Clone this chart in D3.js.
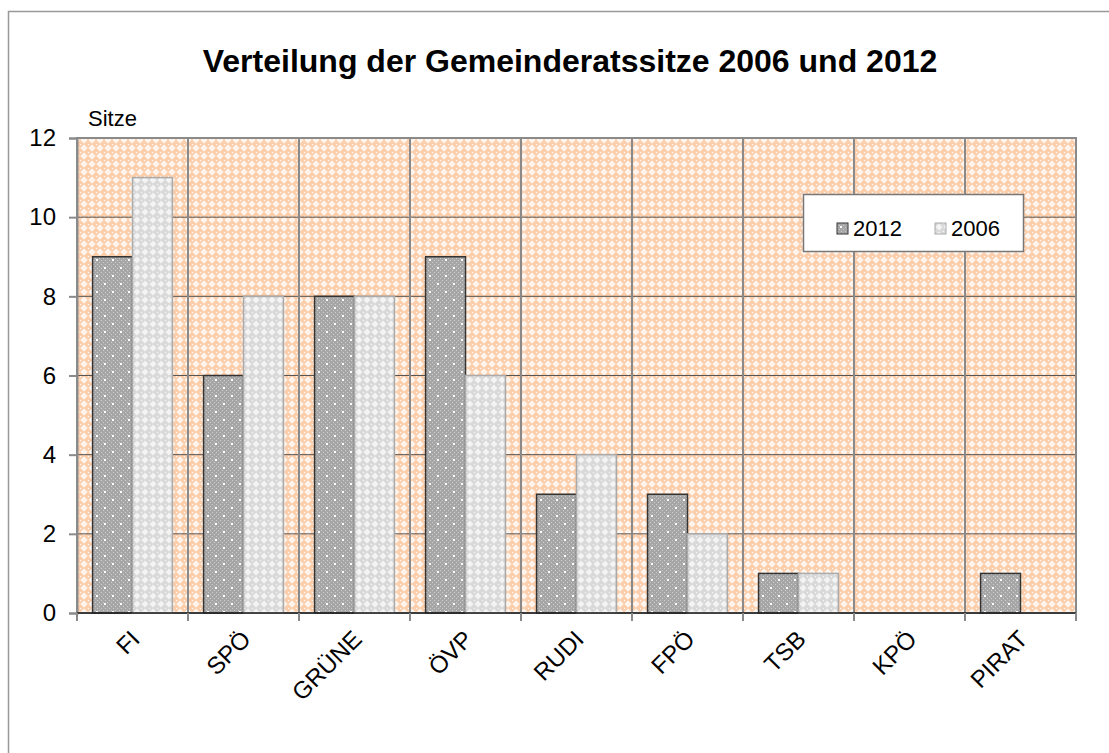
<!DOCTYPE html>
<html><head><meta charset="utf-8">
<script src="https://cdn.jsdelivr.net/npm/d3@7"></script>
<style>body{margin:0;background:#fff;font-family:"Liberation Sans",Arial,sans-serif}</style>
</head><body>
<svg id="c" width="1109" height="753"></svg>
<script>
const categories = ["FI","SPÖ","GRÜNE","ÖVP","RUDI","FPÖ","TSB","KPÖ","PIRAT"];
const seriesNames = ["2012","2006"];
const values2012 = [9,6,8,9,3,3,1,0,1];
const values2006 = [11,8,8,6,4,2,1,0,0];
const yTicks = [0,2,4,6,8,10,12];
const title = "Verteilung der Gemeinderatssitze 2006 und 2012";
const yLabel = "Sitze";

const svg = d3.select("#c");
const defs = svg.append("defs");
// background pattern
const pb = defs.append("pattern").attr("id","bg").attr("patternUnits","userSpaceOnUse").attr("width",8).attr("height",8);
pb.append("rect").attr("width",8).attr("height",8).attr("fill","#fbcfae");
pb.append("path").attr("d","M4,0.5 L7.5,4 L4,7.5 L0.5,4Z").attr("fill","#fff7f1");
pb.append("rect").attr("x",3.5).attr("y",3.5).attr("width",1).attr("height",1).attr("fill","#fde2cf");
pb.append("rect").attr("x",0).attr("y",0).attr("width",1).attr("height",1).attr("fill","#fff");
// dark pattern
const pd = defs.append("pattern").attr("id","dk").attr("patternUnits","userSpaceOnUse").attr("width",16).attr("height",16);
pd.append("rect").attr("width",16).attr("height",16).attr("fill","#a6a6a6");
for(let i=0;i<16;i+=2)for(let j=0;j<16;j+=2){ if((i+j)%4===0) pd.append("rect").attr("x",i).attr("y",j).attr("width",1).attr("height",1).attr("fill","#cdcdcd"); }
pd.append("rect").attr("x",3).attr("y",3).attr("width",2).attr("height",2).attr("fill","#fff");
pd.append("rect").attr("x",11).attr("y",11).attr("width",2).attr("height",2).attr("fill","#fff");
// light pattern
const pl = defs.append("pattern").attr("id","lt").attr("patternUnits","userSpaceOnUse").attr("width",8).attr("height",8);
pl.append("rect").attr("width",8).attr("height",8).attr("fill","#d9d9d9");
pl.append("path").attr("d","M4,0.5 L7.5,4 L4,7.5 L0.5,4Z").attr("fill","#f4f4f4");
pl.append("rect").attr("x",0).attr("y",0).attr("width",1).attr("height",1).attr("fill","#fafafa");

// outer border
svg.append("rect").attr("x",8.5).attr("y",11.5).attr("width",1120).attr("height",760).attr("fill","none").attr("stroke","#999").attr("stroke-width",1.5);

const L=77,R=1076,T=138,B=613;
const x = d3.scaleBand().domain(categories).range([L,R]);
const x1 = d3.scaleBand().domain(seriesNames).range([0,x.bandwidth()]).paddingInner(0).paddingOuter(0.39);
const y = d3.scaleLinear().domain([0,12]).range([B,T]);

svg.append("rect").attr("x",L).attr("y",T).attr("width",R-L).attr("height",B-T).attr("fill","url(#bg)");
// horizontal grid
svg.append("g").selectAll("line").data(yTicks.filter(d=>d>0&&d<12)).join("line")
  .attr("x1",L).attr("x2",R).attr("y1",d=>y(d)).attr("y2",d=>y(d)).attr("stroke","#555").attr("stroke-width",1);
// vertical grid
svg.append("g").selectAll("line").data(categories.slice(1)).join("line")
  .attr("x1",d=>x(d)).attr("x2",d=>x(d)).attr("y1",T).attr("y2",B).attr("stroke","#8a8a8a").attr("stroke-width",2);
// plot border
svg.append("rect").attr("x",L).attr("y",T).attr("width",R-L).attr("height",B-T).attr("fill","none").attr("stroke","#8a8a8a").attr("stroke-width",2);

const data = categories.map((c,i)=>({c, vals:[{s:"2012",v:values2012[i]},{s:"2006",v:values2006[i]}]}));
const g = svg.append("g").selectAll("g").data(data).join("g").attr("transform",d=>`translate(${x(d.c)},0)`);
g.selectAll("rect").data(d=>d.vals.filter(e=>e.v>0)).join("rect")
  .attr("x",e=>x1(e.s)).attr("width",x1.bandwidth()).attr("y",e=>y(e.v)).attr("height",e=>B-y(e.v))
  .attr("fill",e=>e.s==="2012"?"url(#dk)":"url(#lt)")
  .attr("stroke",e=>e.s==="2012"?"#333":"#aaa").attr("stroke-width",1.5);

// y axis
const ya = svg.append("g").attr("transform",`translate(${L},0)`).call(d3.axisLeft(y).tickValues(yTicks).tickSize(8).tickPadding(13));
ya.select(".domain").attr("stroke","#8a8a8a").attr("stroke-width",2);
ya.selectAll(".tick line").attr("stroke","#8a8a8a").attr("stroke-width",2);
ya.selectAll("text").attr("font-size",24).attr("font-family","Liberation Sans, Arial, sans-serif").attr("fill","#000");

// x axis
svg.append("line").attr("x1",L).attr("x2",R).attr("y1",B).attr("y2",B).attr("stroke","#222").attr("stroke-width",1.5);
svg.append("g").selectAll("line").data(categories.map(c=>x(c)).concat([R])).join("line")
  .attr("x1",d=>d).attr("x2",d=>d).attr("y1",B).attr("y2",B+8).attr("stroke","#8a8a8a").attr("stroke-width",2);
svg.append("g").selectAll("text").data(categories).join("text")
  .attr("transform",d=>`translate(${x(d)+x.bandwidth()/2-4},${B+15}) rotate(-45)`)
  .attr("text-anchor","end").attr("font-size",24).attr("dy","0.75em").text(d=>d);

// title
svg.append("text").attr("x",570).attr("y",72).attr("text-anchor","middle").attr("font-weight","bold").attr("font-size",32).text(title);
svg.append("text").attr("x",88).attr("y",126).attr("font-size",22).text(yLabel);

// legend
const lg = svg.append("g");
lg.append("rect").attr("x",803.5).attr("y",194.5).attr("width",220).attr("height",57).attr("fill","#fff").attr("stroke","#777").attr("stroke-width",1.5);
const items = lg.selectAll("g").data(seriesNames).join("g").attr("transform",(d,i)=>`translate(${837+i*98},223)`);
items.append("rect").attr("width",11).attr("height",11).attr("fill",d=>d==="2012"?"url(#dk)":"url(#lt)").attr("stroke",d=>d==="2012"?"#333":"#aaa");
items.append("text").attr("x",16).attr("y",13).attr("font-size",22).text(d=>d);
</script>
</body></html>
